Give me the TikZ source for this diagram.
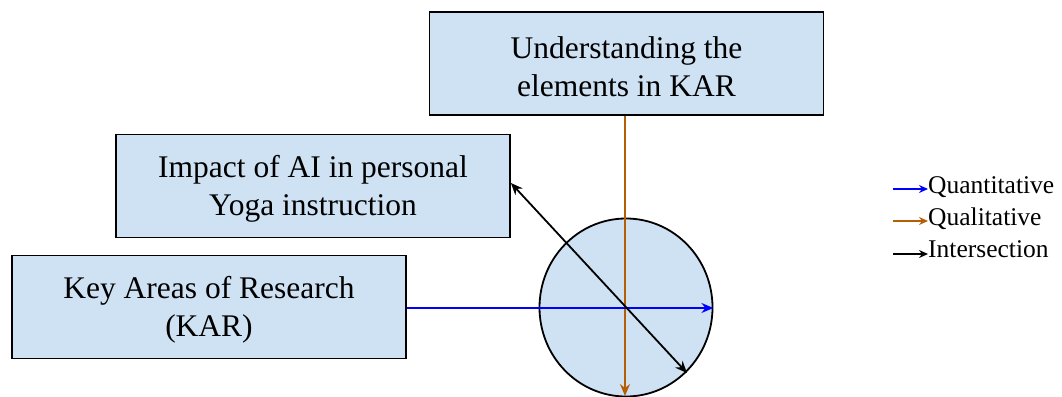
\documentclass[tikz,border=0pt]{standalone}
\usepackage{fontspec}
\setmainfont{Liberation Serif}
\usetikzlibrary{arrows.meta,shapes.geometric}
\definecolor{boxfill}{HTML}{CFE2F3}
\definecolor{qualcol}{HTML}{B45F06}
\definecolor{quantcol}{HTML}{0000FF}
\tikzset{
  x=1pt, y=-1pt,
  topic/.style={draw=black, line width=1.8pt, fill=boxfill, minimum width=394pt,
    minimum height=103pt, inner sep=0pt},
  topictext/.style={align=center, inner sep=0pt, yshift=-3pt,
    font=\fontsize{31.5}{38.5}\selectfont},
  hub/.style={draw=black, line width=1.8pt, fill=boxfill, ellipse,
    minimum width=173pt, minimum height=178pt, inner sep=0pt},
  bigtip/.style={Stealth[length=12pt,width=10pt,inset=4pt]},
  tip/.style={-{Stealth[length=12pt,width=10pt,inset=4pt]}},
  link/.style={line width=1.8pt},
  legtip/.style={-{Stealth[length=9pt,width=8pt,inset=3pt]}},
  legtext/.style={inner sep=0pt, anchor=base west, font=\fontsize{25.5}{30}\selectfont},
}
\begin{document}
\begin{tikzpicture}
\useasboundingbox (0,0) rectangle (1062,396);

% three research boxes and the hub
\node[topic, label={[topictext]center:Understanding the\\elements in KAR}] (under) at (626.5,63.5) {};
\node[topic, label={[topictext]center:Impact of AI in personal\\Yoga instruction}] (impact) at (313,186) {};
\node[topic, label={[topictext]center:Key Areas of Research\\(KAR)}] (kar) at (209,307) {};
\node[hub] (hub) at (626,307.5) {};

% connector ends inside the hub
\coordinate (qualend) at (625,396);
\coordinate (interend) at (687,373);

\draw[link, qualcol, tip] (under.south -| 625,0) -- (qualend);
\draw[link, quantcol, tip] (kar.east |- 0,308) -- (hub.east |- 0,308);
\draw[link, black, {Stealth[length=12pt,width=10pt,inset=4pt]}-{Stealth[length=12pt,width=10pt,inset=4pt]}]
  (interend) -- (impact.east |- 0,183);

% legend
\node[legtext] (lqn) at (928,193) {Quantitative};
\node[legtext] (lql) at (928,225) {Qualitative};
\node[legtext] (lin) at (928,257) {Intersection};
\coordinate (aqn) at (893,189);
\coordinate (aql) at (893,221);
\coordinate (ain) at (893,254);
\draw[link, quantcol, legtip] (aqn) -- (aqn -| lqn.west);
\draw[link, qualcol, legtip] (aql) -- (aql -| lql.west);
\draw[link, black, legtip] (ain) -- (ain -| lin.west);
\end{tikzpicture}
\end{document}
